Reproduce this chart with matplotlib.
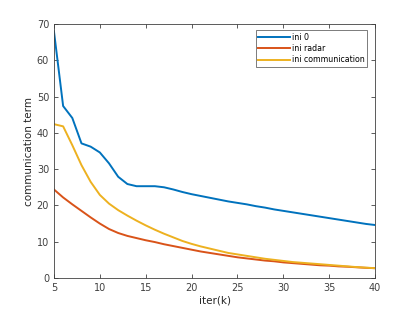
import matplotlib
matplotlib.use("Agg")
import matplotlib.pyplot as plt
import numpy as np

iters = np.arange(5, 41)

ini_zero = [68.0, 47.4, 44.1, 37.1, 36.2, 34.6, 31.6, 27.9, 25.9, 25.3,
            25.3, 25.3, 25.0, 24.4, 23.7, 23.1, 22.6, 22.1, 21.6, 21.1,
            20.7, 20.3, 19.8, 19.4, 18.9, 18.5, 18.1, 17.7, 17.3, 16.9,
            16.5, 16.1, 15.7, 15.3, 14.9, 14.6]
ini_radar = [24.4, 22.2, 20.3, 18.5, 16.7, 15.0, 13.5, 12.4, 11.6, 11.0,
             10.4, 9.9, 9.3, 8.8, 8.3, 7.8, 7.3, 6.9, 6.5, 6.1,
             5.7, 5.4, 5.1, 4.8, 4.6, 4.3, 4.1, 3.9, 3.7, 3.5,
             3.4, 3.2, 3.1, 2.95, 2.8, 2.7]
ini_comm = [42.4, 41.8, 36.6, 31.1, 26.5, 22.9, 20.5, 18.7, 17.2, 15.8,
            14.5, 13.3, 12.2, 11.2, 10.2, 9.4, 8.7, 8.1, 7.5, 6.9,
            6.5, 6.1, 5.7, 5.3, 5.0, 4.7, 4.4, 4.2, 4.0, 3.8,
            3.6, 3.4, 3.2, 3.0, 2.85, 2.7]

labels = ["ini 0", "ini radar", "ini communication"]
colors = ["#0072BD", "#D95319", "#EDB120"]

plt.rcParams["font.family"] = ["DejaVu Sans"]
plt.rcParams["font.size"] = 7

fig = plt.figure(figsize=(4.15, 3.12), dpi=100)
ax = fig.add_axes([0.130, 0.109, 0.774, 0.814])

for ys, lab, c in zip([ini_zero, ini_radar, ini_comm], labels, colors):
    ax.plot(iters, ys, color=c, linewidth=1.4, label=lab)

ax.set_xlim(5, 40)
ax.set_ylim(0, 70)
ax.set_xticks(np.arange(5, 41, 5))
ax.set_yticks(np.arange(0, 71, 10))
ax.tick_params(direction="in", top=True, right=True, length=3,
               width=0.6, colors="#404040", labelsize=7)
for s in ax.spines.values():
    s.set_color("#404040")
    s.set_linewidth(0.6)
ax.set_xlabel("iter(k)", fontsize=7.5, color="#262626", labelpad=2)
ax.set_ylabel("communication term", fontsize=7.5, color="#262626", labelpad=2)

leg = ax.legend(loc="upper right", bbox_to_anchor=(0.975, 0.975),
                fontsize=5.7, frameon=True, fancybox=False,
                handlelength=4.0, handletextpad=0.3, borderpad=0.3,
                labelspacing=0.3, borderaxespad=0.0)
leg.get_frame().set_edgecolor("#404040")
leg.get_frame().set_linewidth(0.6)

fig.savefig("out.png", dpi=100)
